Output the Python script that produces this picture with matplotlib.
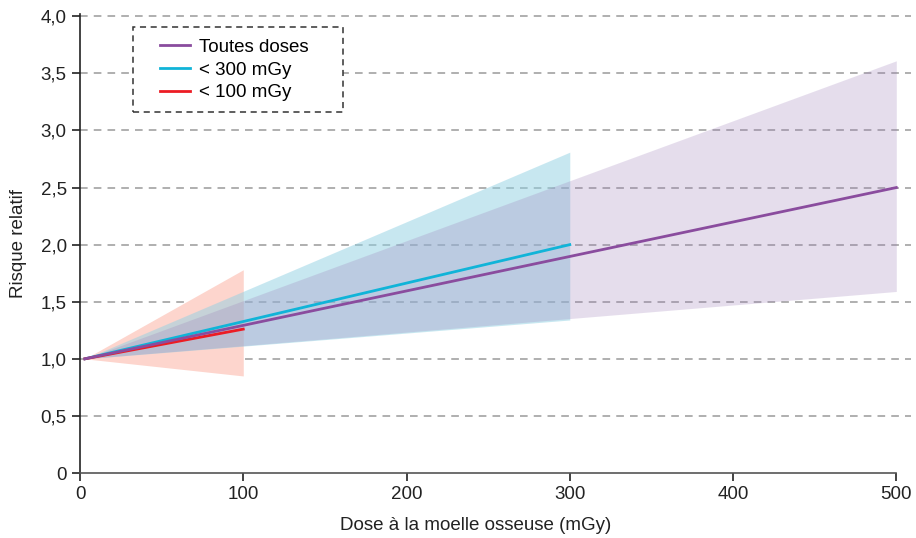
import numpy as np
import matplotlib
matplotlib.use("Agg")
import matplotlib.pyplot as plt
from matplotlib.patches import Rectangle

plt.rcParams['font.family'] = ['Liberation Sans', 'DejaVu Sans']

# data: dose (mGy) -> relative risk, with upper/lower band edges
dose_all = [3, 500]
rr_all = [1.0, 2.5]
lo_all = [1.0, 1.59]
hi_all = [1.0, 3.61]

dose_300 = [3, 300]
rr_300 = [1.0, 2.0]
lo_300 = [1.0, 1.34]
hi_300 = [1.0, 2.81]

dose_100 = [3, 100]
rr_100 = [1.0, 1.26]
lo_100 = [1.0, 0.85]
hi_100 = [1.0, 1.78]

labels = ['Toutes doses', '< 300 mGy', '< 100 mGy']
yticks = [0, 0.5, 1.0, 1.5, 2.0, 2.5, 3.0, 3.5, 4.0]
ytick_labels = ['0', '0,5', '1,0', '1,5', '2,0', '2,5', '3,0', '3,5', '4,0']
xticks = [0, 100, 200, 300, 400, 500]

c_purple = '#8a4c9e'
c_cyan = '#10b4d8'
c_red = '#ec1c24'
fs = 13.5

fig = plt.figure(figsize=(9.16, 5.38), dpi=100)
ax = fig.add_axes([80 / 916, 1 - 473 / 538, (911 - 80) / 916, (473 - 14) / 538])

# bands
ax.fill_between(dose_100, lo_100, hi_100, color='#fdd5cd', lw=0, zorder=1)
ax.fill_between(dose_300, lo_300, hi_300, color='#91d1e3', alpha=0.5, lw=0, zorder=2)
ax.fill_between(dose_all, lo_all, hi_all, color='#9b7bb7', alpha=0.25, lw=0, zorder=3)

# lines
ax.plot(dose_all, rr_all, color=c_purple, lw=2.0, label=labels[0], zorder=6)
ax.plot(dose_300, rr_300, color=c_cyan, lw=2.0, label=labels[1], zorder=5)
ax.plot(dose_100, rr_100, color=c_red, lw=2.0, label=labels[2], zorder=5)

ax.set_xlim(0, 509)
ax.set_ylim(0, 4.02)
ax.set_yticks(yticks)
ax.set_yticklabels(ytick_labels)
ax.set_xticks(xticks)
ax.tick_params(labelsize=fs, colors='#222222', length=6, width=1.2)
for y in yticks[1:]:
    ax.axhline(y, color='#9a9a9a', lw=1.1, ls=(0, (5, 4)), zorder=0)

for s in ['top', 'right']:
    ax.spines[s].set_visible(False)
ax.spines['bottom'].set_bounds(0, 500)
ax.spines['left'].set_linewidth(1.2)
ax.spines['bottom'].set_linewidth(1.2)
ax.spines['left'].set_color('#222222')
ax.spines['bottom'].set_color('#555555')

ax.set_xlabel('Dose à la moelle osseuse (mGy)', fontsize=fs, color='#222222')
ax.xaxis.set_label_coords(0.4765, -0.096)
ax.set_ylabel('Risque relatif', fontsize=fs, color='#222222', labelpad=10)

leg = ax.legend(loc='upper left', bbox_to_anchor=(0.0963, 0.946), fontsize=fs,
                handlelength=1.6, handletextpad=0.5, frameon=False,
                borderpad=0, borderaxespad=0, labelspacing=0.3)
leg.set_zorder(10)

# dashed legend box
ax.add_patch(Rectangle((0.0638, 0.7865), 0.2527, 0.185, transform=ax.transAxes,
                       facecolor='white', edgecolor='#333333', lw=1.1,
                       ls=(0, (4, 3)), zorder=9))

plt.savefig('out.png', dpi=100)
